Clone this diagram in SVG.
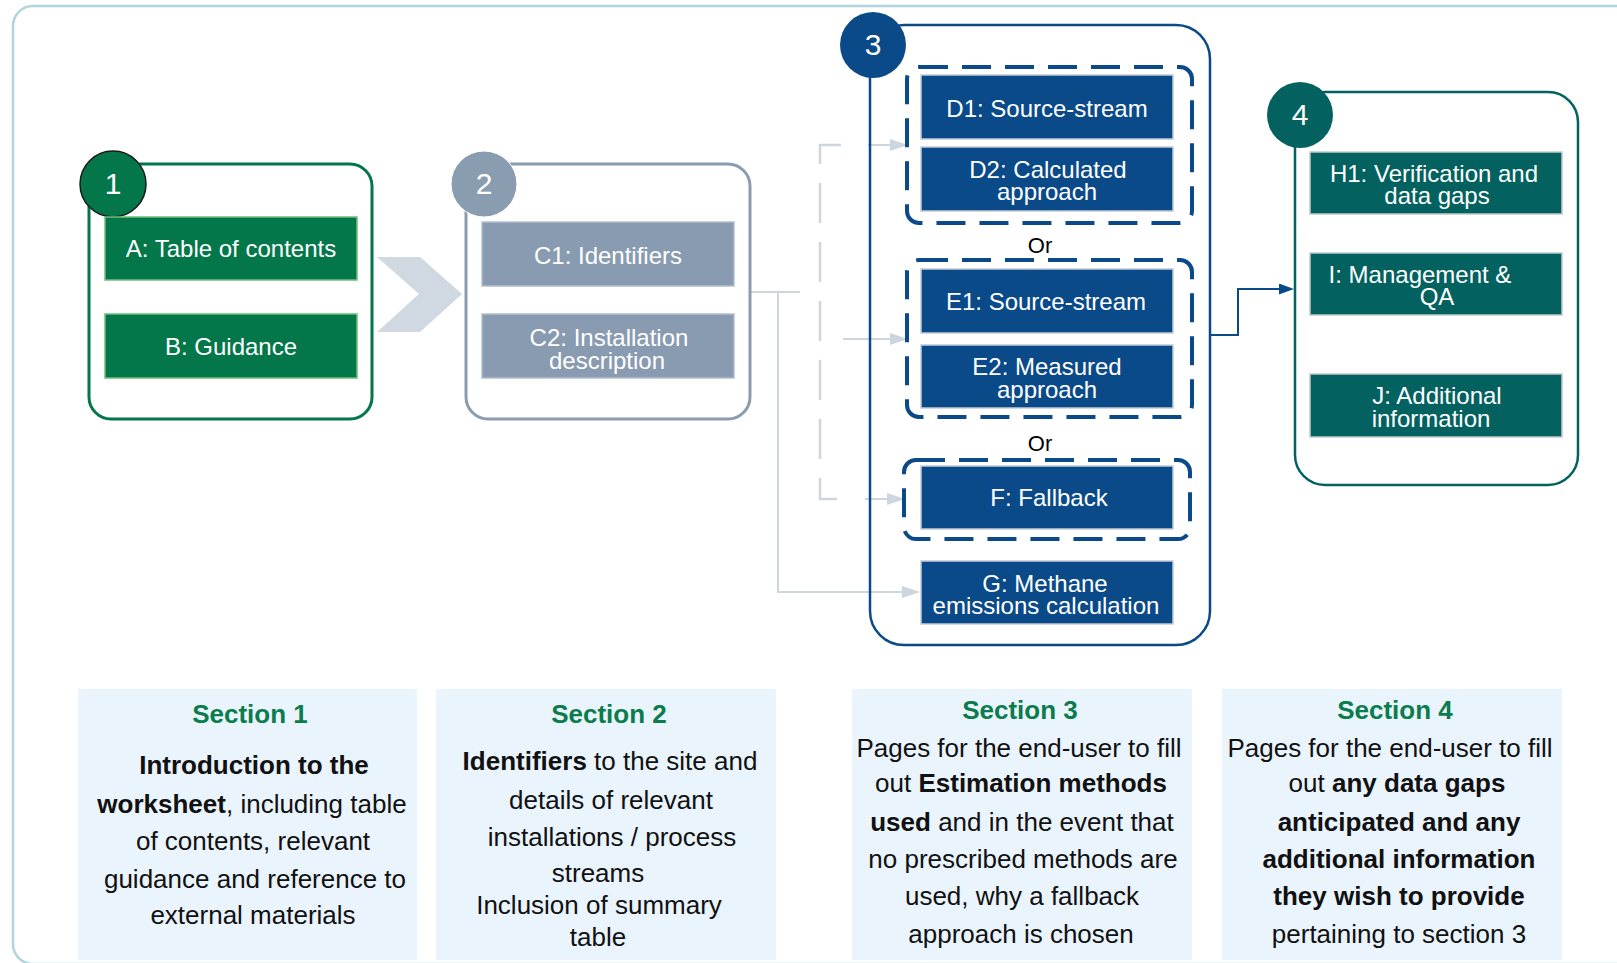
<svg xmlns="http://www.w3.org/2000/svg" width="1617" height="963" viewBox="0 0 1617 963">
  <defs>
    <style>
      text{font-family:"Liberation Sans",Arial,Helvetica,sans-serif}
      .lbl{fill:#ffffff;font-size:24px;text-anchor:middle}
      .num{fill:#ffffff;font-size:30px;text-anchor:middle}
      .or{fill:#000000;font-size:22px;text-anchor:middle}
      .head{fill:#0b7c4c;font-size:26px;font-weight:bold;text-anchor:middle}
      .body{fill:#111111;font-size:26px;text-anchor:middle}
      .b{font-weight:bold}
      .frame{fill:#ffffff;stroke:#b0d5de;stroke-width:2.5}
      .panel{fill:#eaf4fd}
      .c-green{fill:none;stroke:#03774a;stroke-width:3}
      .c-grey{fill:none;stroke:#8a9cb0;stroke-width:3}
      .c-blue{fill:none;stroke:#0b4a88;stroke-width:2.5}
      .c-teal{fill:none;stroke:#03625f;stroke-width:2.5}
      .n-green{fill:#03774a;stroke:#6fbf7a;stroke-width:1.5}
      .n-grey{fill:#899bb0;stroke:#b4c0cd;stroke-width:1.5}
      .n-blue{fill:#0b4a88;stroke:#c3ccd6;stroke-width:1.5}
      .n-teal{fill:#03625f;stroke:#c0cccc;stroke-width:1.5}
      .opt{fill:none;stroke:#0b4a88;stroke-width:4;stroke-dasharray:29 14}
      .ln-grey{fill:none;stroke:#cdd6df;stroke-width:2}
      .ln-dash{fill:none;stroke:#cdd6df;stroke-width:2.5;stroke-dasharray:40 19}
      .ln-blue{fill:none;stroke:#0b4a88;stroke-width:2}
    </style>
    <marker id="arrGrey" viewBox="0 0 18 12" refX="10" refY="6" markerWidth="18" markerHeight="12" markerUnits="userSpaceOnUse" orient="auto" preserveAspectRatio="none">
      <path d="M0,0 L18,6 L0,12 z" fill="#cdd6df"/>
    </marker>
    <marker id="arrBlue" viewBox="0 0 15 11" refX="7" refY="5.5" markerWidth="15" markerHeight="11" markerUnits="userSpaceOnUse" orient="auto" preserveAspectRatio="none">
      <path d="M0,0 L15,5.5 L0,11 z" fill="#0b4a88"/>
    </marker>
  </defs>

  <!-- page frame -->
  <rect class="frame" x="13" y="6" width="1630" height="958" rx="20"/>

  <!-- connectors -->
  <g id="connectors">
    <polygon id="flow-chevron" points="377,257 420,257 462,294 420,332 377,332 419,294" fill="#d0d9e1"/>
    <path class="ln-grey" d="M750,292 H800"/>
    <path class="ln-grey" d="M778,292 V592 H912" marker-end="url(#arrGrey)"/>
    <path class="ln-dash" d="M841,145 H820 V499 H837"/>
    <path class="ln-grey" d="M868,145 H900" marker-end="url(#arrGrey)"/>
    <path class="ln-grey" d="M843,339 H900" marker-end="url(#arrGrey)"/>
    <path class="ln-grey" d="M865,499 H897" marker-end="url(#arrGrey)"/>
    <path class="ln-blue" d="M1210,335 H1238 V289 H1286" marker-end="url(#arrBlue)"/>
  </g>

  <!-- section 1 -->
  <g id="section1">
    <rect class="c-green" x="89" y="164" width="283" height="255" rx="22"/>
  </g>
  <g id="badge1">
    <circle cx="113" cy="184" r="33" fill="#03774a" stroke="#1a1a1a" stroke-width="1.5"/>
    <text class="num" x="113" y="194">1</text>
  </g>
  <g id="nodeA">
    <rect class="n-green" x="105" y="217" width="252" height="63"/>
    <text class="lbl" x="231" y="257">A: Table of contents</text>
  </g>
  <g id="nodeB">
    <rect class="n-green" x="105" y="314" width="252" height="64"/>
    <text class="lbl" x="231" y="355">B: Guidance</text>
  </g>

  <!-- section 2 -->
  <g id="section2">
    <rect class="c-grey" x="466" y="164" width="284" height="255" rx="22"/>
  </g>
  <g id="badge2">
    <circle cx="484" cy="184" r="33" fill="#8a9cb0" stroke="#ffffff" stroke-width="1"/>
    <text class="num" x="484" y="194">2</text>
  </g>
  <g id="nodeC1">
    <rect class="n-grey" x="482" y="222" width="252" height="64"/>
    <text class="lbl" x="608" y="264">C1: Identifiers</text>
  </g>
  <g id="nodeC2">
    <rect class="n-grey" x="482" y="314" width="252" height="64"/>
    <text class="lbl" x="609" y="346">C2: Installation</text>
    <text class="lbl" x="607" y="369">description</text>
  </g>

  <!-- section 3 -->
  <g id="section3">
    <rect class="c-blue" x="870" y="25" width="340" height="620" rx="34"/>
  </g>
  <g id="badge3">
    <circle cx="873" cy="45" r="33" fill="#0b4a88"/>
    <text class="num" x="873" y="55">3</text>
  </g>
  <g id="optionD">
    <rect class="opt" x="907" y="67" width="285" height="156" rx="12"/>
  </g>
  <g id="nodeD1">
    <rect class="n-blue" x="921" y="75" width="252" height="64"/>
    <text class="lbl" x="1047" y="117">D1: Source-stream</text>
  </g>
  <g id="nodeD2">
    <rect class="n-blue" x="921" y="147" width="252" height="64"/>
    <text class="lbl" x="1048" y="178">D2: Calculated</text>
    <text class="lbl" x="1047" y="200">approach</text>
  </g>
  <g id="or1"><text class="or" x="1040" y="253">Or</text></g>
  <g id="optionE">
    <rect class="opt" x="907" y="260" width="285" height="157" rx="12"/>
  </g>
  <g id="nodeE1">
    <rect class="n-blue" x="921" y="269" width="252" height="64"/>
    <text class="lbl" x="1046" y="310">E1: Source-stream</text>
  </g>
  <g id="nodeE2">
    <rect class="n-blue" x="921" y="345" width="252" height="63"/>
    <text class="lbl" x="1047" y="375">E2: Measured</text>
    <text class="lbl" x="1047" y="398">approach</text>
  </g>
  <g id="or2"><text class="or" x="1040" y="451">Or</text></g>
  <g id="optionF">
    <rect class="opt" x="904" y="460" width="286" height="79" rx="12"/>
  </g>
  <g id="nodeF">
    <rect class="n-blue" x="921" y="466" width="252" height="63"/>
    <text class="lbl" x="1049" y="506">F: Fallback</text>
  </g>
  <g id="nodeG">
    <rect class="n-blue" x="921" y="561" width="252" height="63"/>
    <text class="lbl" x="1045" y="592">G: Methane</text>
    <text class="lbl" x="1046" y="614">emissions calculation</text>
  </g>

  <!-- section 4 -->
  <g id="section4">
    <rect class="c-teal" x="1295" y="92" width="283" height="393" rx="30"/>
  </g>
  <g id="badge4">
    <circle cx="1300" cy="115" r="33" fill="#03625f"/>
    <text class="num" x="1300" y="125">4</text>
  </g>
  <g id="nodeH1">
    <rect class="n-teal" x="1310" y="152" width="252" height="62"/>
    <text class="lbl" x="1434" y="182">H1: Verification and</text>
    <text class="lbl" x="1437" y="204">data gaps</text>
  </g>
  <g id="nodeI">
    <rect class="n-teal" x="1310" y="253" width="252" height="62"/>
    <text class="lbl" x="1420" y="283">I: Management &amp;</text>
    <text class="lbl" x="1437" y="305">QA</text>
  </g>
  <g id="nodeJ">
    <rect class="n-teal" x="1310" y="374" width="252" height="63"/>
    <text class="lbl" x="1437" y="404">J: Additional</text>
    <text class="lbl" x="1431" y="427">information</text>
  </g>

  <!-- section descriptions -->
  <g id="desc1">
    <rect class="panel" x="78" y="689" width="339" height="271"/>
    <text class="head" x="250" y="723">Section 1</text>
    <text class="body b" x="254" y="774">Introduction to the</text>
    <text class="body" x="252" y="813"><tspan class="b">worksheet</tspan>, including table</text>
    <text class="body" x="253" y="850">of contents, relevant</text>
    <text class="body" x="255" y="888">guidance and reference to</text>
    <text class="body" x="253" y="924">external materials</text>
  </g>
  <g id="desc2">
    <rect class="panel" x="436" y="689" width="340" height="271"/>
    <text class="head" x="609" y="723">Section 2</text>
    <text class="body" x="610" y="770"><tspan class="b">Identifiers</tspan> to the site and</text>
    <text class="body" x="611" y="809">details of relevant</text>
    <text class="body" x="612" y="846">installations / process</text>
    <text class="body" x="598" y="882">streams</text>
    <text class="body" x="599" y="914">Inclusion of summary</text>
    <text class="body" x="598" y="946">table</text>
  </g>
  <g id="desc3">
    <rect class="panel" x="852" y="689" width="340" height="271"/>
    <text class="head" x="1020" y="719">Section 3</text>
    <text class="body" x="1019" y="757">Pages for the end-user to fill</text>
    <text class="body" x="1021" y="792">out <tspan class="b">Estimation methods</tspan></text>
    <text class="body" x="1022" y="831"><tspan class="b">used</tspan> and in the event that</text>
    <text class="body" x="1023" y="868">no prescribed methods are</text>
    <text class="body" x="1022" y="905">used, why a fallback</text>
    <text class="body" x="1021" y="943">approach is chosen</text>
  </g>
  <g id="desc4">
    <rect class="panel" x="1222" y="689" width="340" height="271"/>
    <text class="head" x="1395" y="719">Section 4</text>
    <text class="body" x="1390" y="757">Pages for the end-user to fill</text>
    <text class="body" x="1397" y="792">out <tspan class="b">any data gaps</tspan></text>
    <text class="body b" x="1399" y="831">anticipated and any</text>
    <text class="body b" x="1399" y="868">additional information</text>
    <text class="body b" x="1399" y="905">they wish to provide</text>
    <text class="body" x="1399" y="943">pertaining to section 3</text>
  </g>
</svg>
